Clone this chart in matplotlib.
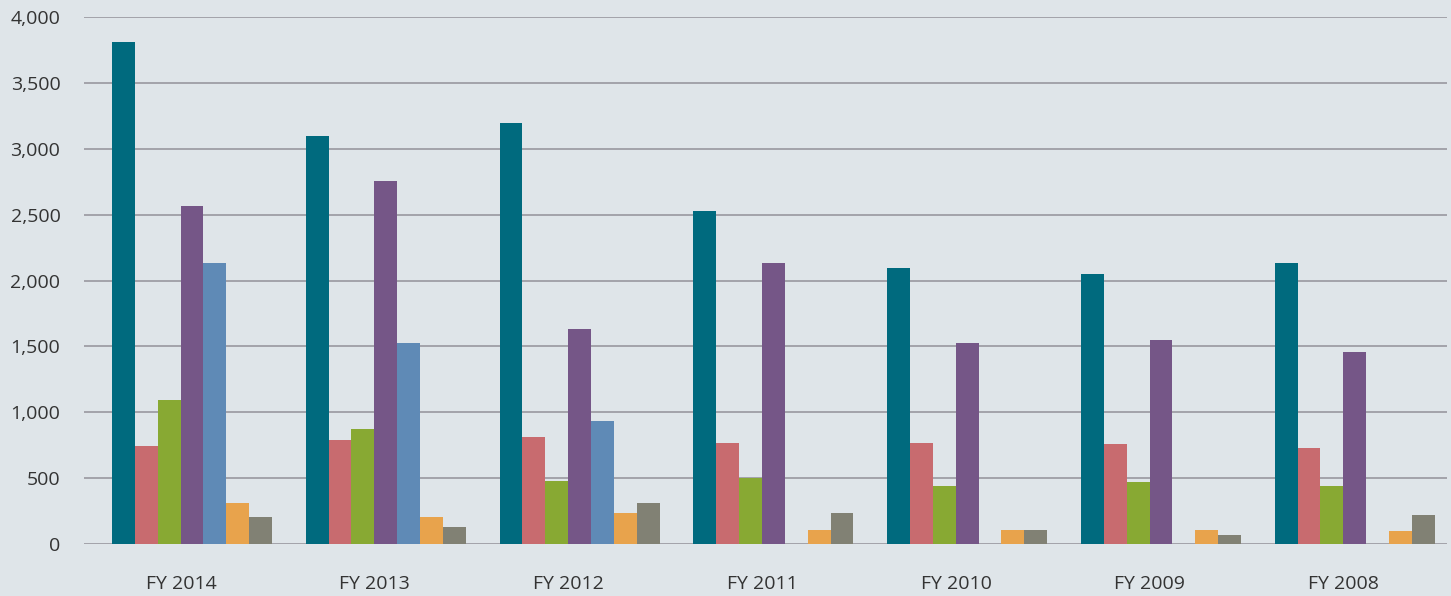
import numpy as np
import matplotlib
matplotlib.use("Agg")
import matplotlib.pyplot as plt
from matplotlib.ticker import FuncFormatter

# data
years = ['FY 2014', 'FY 2013', 'FY 2012', 'FY 2011', 'FY 2010', 'FY 2009', 'FY 2008']

s_teal   = [3810, 3097, 3195, 2527, 2095, 2049, 2133]
s_salmon = [744, 789, 812, 767, 767, 759, 729]
s_green  = [1093, 873, 478, 501, 440, 471, 440]
s_purple = [2565, 2755, 1632, 2133, 1526, 1548, 1457]
s_blue   = [2133, 1526, 934, 0, 0, 0, 0]
s_orange = [311, 205, 235, 106, 106, 106, 99]
s_gray   = [205, 129, 311, 235, 106, 68, 220]

series = [s_teal, s_salmon, s_green, s_purple, s_blue, s_orange, s_gray]
colors = ['#006a7e', '#c86b6f', '#88a933', '#755687', '#5f8ab6', '#e8a34c', '#818174']

bg = '#dfe5e9'

fig = plt.figure(figsize=(14.51, 5.96), dpi=100, facecolor=bg)
ax = fig.add_axes([84/1451, 52/596, (1447-84)/1451, (544-17)/596])
ax.set_facecolor(bg)

x = np.arange(len(years))
width = 0.118
start = -0.356

for i, vals in enumerate(series):
    ax.bar(x + start + width*(i + 0.5), vals, width=width, color=colors[i], zorder=3, linewidth=0)

ax.set_ylim(0, 4000)
ax.set_xlim(-0.5, 6.5 + 6.4/193.8)
ax.set_yticks(np.arange(0, 4001, 500))
ax.yaxis.set_major_formatter(FuncFormatter(lambda v, p: f'{int(v):,}'))
ax.grid(axis='y', color='#a3a3aa', linewidth=1.4, zorder=1)
ax.set_axisbelow(True)

for sp in ax.spines.values():
    sp.set_visible(False)

ax.set_xticks(x)
ax.set_xticklabels(years)
ax.tick_params(axis='both', length=0, labelsize=14, labelcolor='#333333')
ax.tick_params(axis='y', pad=17)
ax.tick_params(axis='x', pad=22)
for lab in ax.get_xticklabels() + ax.get_yticklabels():
    lab.set_fontfamily('Open Sans')

fig.savefig('out.png', dpi=100, facecolor=bg)
